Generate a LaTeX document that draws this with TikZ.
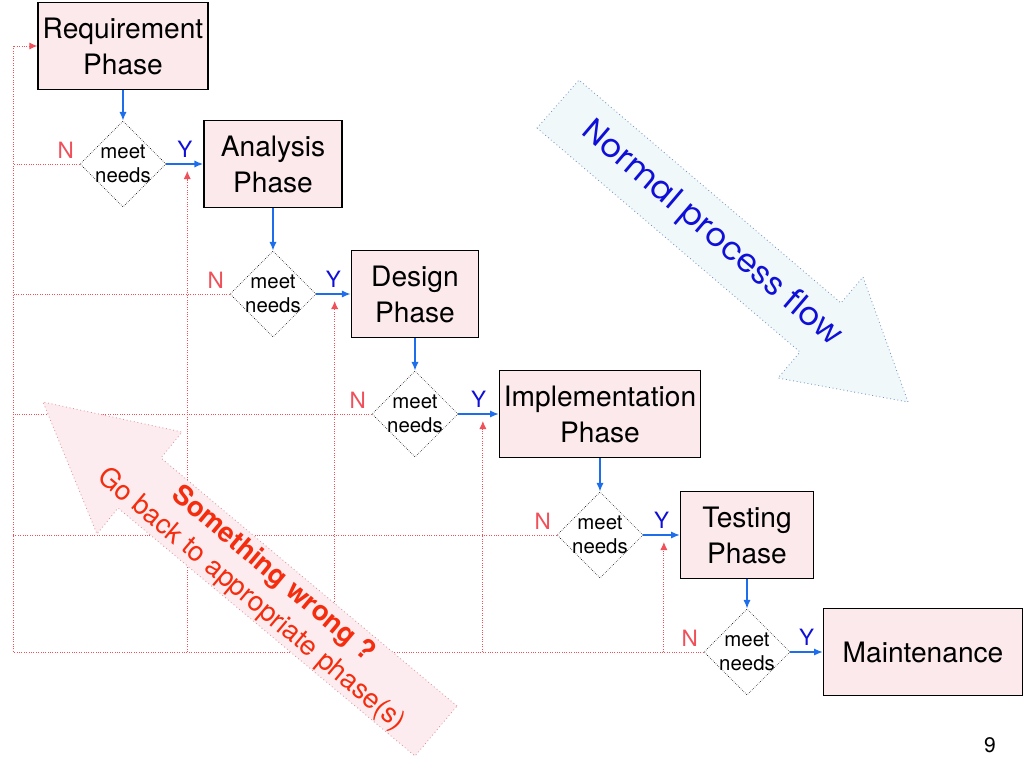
\documentclass[tikz,border=0pt]{standalone}
\usepackage{fontspec}
\setmainfont{TeX Gyre Heros}
\newfontfamily\flowfont{Poppins}
\usetikzlibrary{shapes.geometric,arrows.meta,calc}
\definecolor{phasefill}{RGB}{251,233,236}
\definecolor{flowblue}{RGB}{30,110,235}
\definecolor{ylabblue}{RGB}{15,15,215}
\definecolor{backred}{RGB}{240,80,90}
\definecolor{normalfill}{RGB}{241,248,250}
\definecolor{normaledge}{RGB}{115,150,195}
\definecolor{wrongfill}{RGB}{252,236,239}
\definecolor{wrongedge}{RGB}{220,150,160}
\definecolor{wrongtext}{RGB}{245,45,15}
\tikzset{
  phase/.style={draw=black, line width=1pt, fill=phasefill, minimum height=2.175cm,
    inner sep=0pt, align=center, font=\fontsize{20}{25.6}\selectfont},
  decision/.style={diamond, draw=black, densely dotted, thin, fill=white, aspect=1,
    minimum width=2.15cm, minimum height=2.15cm, inner sep=-3pt, align=center,
    font=\fontsize{14.5}{17}\selectfont},
  yespath/.style={draw=flowblue, line width=1.1pt, -{Latex[length=2.2mm,width=1.8mm]}},
  nopath/.style={draw=backred, densely dotted, line width=0.7pt},
  backarrow/.style={nopath, -{Latex[length=2mm,width=1.8mm]}},
  ylab/.style={text=ylabblue, font=\fontsize{16}{16}\selectfont, inner sep=1pt, above=3pt},
  nlab/.style={text=backred, font=\fontsize{16}{16}\selectfont, inner sep=1pt, above left=3pt},
  bigarrow/.style={dotted, line width=0.6pt},
}
\begin{document}
\begin{tikzpicture}[x=0.025cm,y=-0.025cm]
\useasboundingbox (0,0) rectangle (1024,768);
% phases
\node[phase, minimum width=4.25cm] (req) at (123,46) {Requirement\\Phase};
\node[phase, minimum width=3.45cm] (ana) at (273,164) {Analysis\\Phase};
\node[phase, minimum width=3.18cm] (des) at (415,294) {Design\\Phase};
\node[phase, minimum width=5.02cm] (imp) at (600,414) {Implementation\\Phase};
\node[phase, minimum width=3.32cm] (tes) at (747,535) {Testing\\Phase};
\node[phase, minimum width=4.97cm] (mai) at (923,652) {Maintenance};
% checks between phases
\foreach \a/\d/\b [count=\i] in {req/d1/ana, ana/d2/des, des/d3/imp, imp/d4/tes, tes/d5/mai} {
  \node[decision] (\d) at (\a |- \b) {meet\\needs};
  \draw[yespath] (\a) -- (\d);
  \draw[yespath] (\d) -- node[ylab] (y\i) {Y} (\b);
  \node[nlab] (n\i) at (\d.west) {N};
}
% going back
\coordinate (left) at (13,0);
\foreach \d in {d1,d2,d3,d4}
  \draw[nopath] (\d.west) -- (\d.west -| left);
\draw[backarrow] (d5.west) -- (d5.west -| left) |- (req.west);
\foreach \b in {ana,des,imp,tes}
  \draw[backarrow] ($(\b.west |- d5.west)+(-16,0)$) -- ($(\b.west)+(-16,7)$);
% big arrows
\draw[bigarrow, fill=normalfill, draw=normaledge]
  (537,128) -- (800,352) -- (778,378) -- (908,402) -- (863,277) -- (841,303) -- (579,80) -- cycle;
\node[rotate=-40.4, text=ylabblue, font=\flowfont\fontsize{23}{23}\selectfont] (normal) at (711,234) {Normal process flow};
\draw[bigarrow, fill=wrongfill, draw=wrongedge]
  (457,706) -- (161,458) -- (182,432) -- (43,402) -- (97,534) -- (118,508) -- (415,756) -- cycle;
\node[rotate=-40, text=wrongtext, align=center, font=\fontsize{19.5}{24}\selectfont] (wrong) at (262,587)
  {\textbf{Something wrong ?}\\Go back to appropriate phase(s)};
\node[font=\fontsize{15}{15}\selectfont] (page) at (990,745) {9};
\end{tikzpicture}
\end{document}
